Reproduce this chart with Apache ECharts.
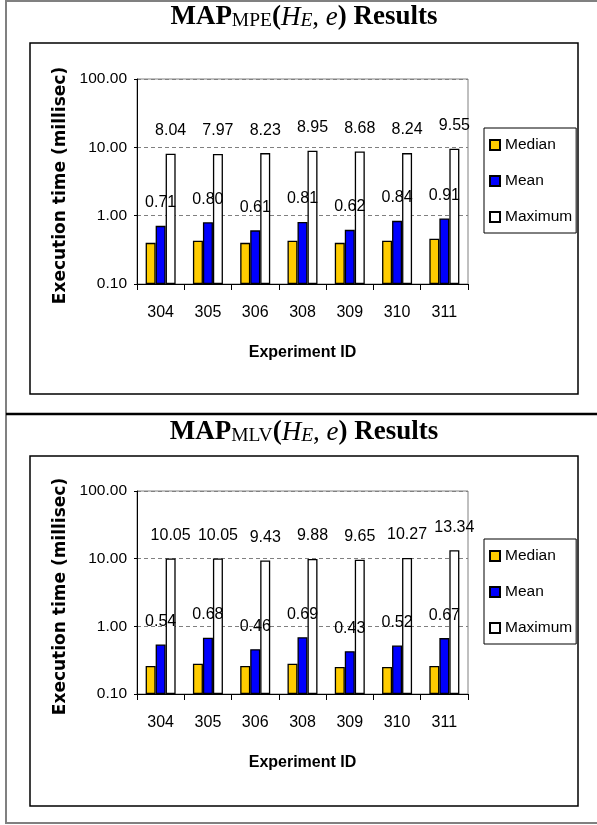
<!DOCTYPE html>
<html>
<head>
<meta charset="utf-8">
<script src="https://cdn.jsdelivr.net/npm/echarts@6/dist/echarts.min.js"></script>
<style>
html,body{margin:0;padding:0;background:#fff;}
#c{width:597px;height:825px;}
</style>
</head>
<body>
<div id="c"></div>
<script>
// ---- data ----
var categories = ['304', '305', '306', '308', '309', '310', '311'];
var seriesNames = ['Median', 'Mean', 'Maximum'];
// top panel: MAP_MPE(H_E, e)
var mpeMedian = [0.40, 0.43, 0.40, 0.43, 0.40, 0.43, 0.46];
var mpeMean = [0.71, 0.80, 0.61, 0.81, 0.62, 0.84, 0.91];
var mpeMax = [8.04, 7.97, 8.23, 8.95, 8.68, 8.24, 9.55];
// bottom panel: MAP_MLV(H_E, e)
var mlvMedian = [0.26, 0.28, 0.26, 0.28, 0.25, 0.25, 0.26];
var mlvMean = [0.54, 0.68, 0.46, 0.69, 0.43, 0.52, 0.67];
var mlvMax = [10.05, 10.05, 9.43, 9.88, 9.65, 10.27, 13.34];
var yTickValues = [0.1, 1, 10, 100];
var xTitle = 'Experiment ID';
var yTitle = 'Execution time (millisec)';

var NARROW = "'Liberation Sans', Arial, sans-serif";
var SANS = "'Liberation Sans', Arial, sans-serif";
var SERIF = "'Liberation Serif', 'Times New Roman', serif";
var colors = ['#FFCC00', '#0000FF', '#FFFFFF'];

var chart = echarts.init(document.getElementById('c'), null, {renderer: 'canvas'});

function xAxisFor(gi) {
  return {
    type: 'category', gridIndex: gi, data: categories,
    axisLine: {show: true, lineStyle: {color: '#000', width: 1}},
    axisTick: {show: true, length: 6, lineStyle: {color: '#000'}},
    axisLabel: {margin: 21, color: '#000', fontFamily: NARROW, fontSize: 16},
    name: xTitle, nameLocation: 'middle', nameGap: 61,
    nameTextStyle: {color: '#000', fontFamily: SANS, fontWeight: 'bold', fontSize: 16}
  };
}
function yAxisFor(gi) {
  return {
    type: 'log', logBase: 10, gridIndex: gi,
    min: yTickValues[0], max: yTickValues[yTickValues.length - 1],
    startValue: yTickValues[0],
    axisLine: {show: true, onZero: false, lineStyle: {color: '#000', width: 1}},
    axisTick: {show: true, length: 3, lineStyle: {color: '#000'}},
    minorTick: {show: false},
    axisLabel: {margin: 10, color: '#000', fontFamily: NARROW, fontSize: 15.5,
      formatter: function (v) { return Number(v).toFixed(2); }},
    splitLine: {show: true, lineStyle: {color: '#808080', type: [4, 3], width: 1}},
    name: yTitle, nameLocation: 'middle', nameGap: 52,
    nameTextStyle: {color: '#000', fontFamily: "'DejaVu Sans', sans-serif", fontWeight: 'bold', fontSize: 17,
      padding: [0, 8, 0, 0]}
  };
}
function barSeries(name, data, idx, gi, withLabel) {
  return {
    type: 'bar', name: name, data: data, xAxisIndex: gi, yAxisIndex: gi,
    barWidth: 10, barGap: '0%',
    itemStyle: {color: colors[idx], borderColor: '#000', borderWidth: 1.3},
    label: {show: withLabel, position: 'top', distance: 15, color: '#000',
      fontFamily: NARROW, fontSize: 16,
      formatter: function (p) { return Number(p.value).toFixed(2); }},
    emphasis: {disabled: true},
    animation: false
  };
}
function legendFor(top) {
  return {
    orient: 'vertical', left: 484, top: top, data: seriesNames,
    icon: 'rect', itemWidth: 10, itemHeight: 10, itemGap: 20,
    padding: [9, 4, 8, 5], borderColor: '#000', borderWidth: 1,
    textStyle: {color: '#000', fontFamily: NARROW, fontSize: 15.5},
    selectedMode: false
  };
}
var titleRich = {
  b: {fontFamily: SERIF, fontWeight: 'bold', fontSize: 27, lineHeight: 30, verticalAlign: 'bottom', color: '#000'},
  s: {fontFamily: SERIF, fontSize: 19.5, lineHeight: 26, verticalAlign: 'bottom', color: '#000'},
  i: {fontFamily: SERIF, fontStyle: 'italic', fontSize: 27, lineHeight: 30, verticalAlign: 'bottom', color: '#000'},
  si: {fontFamily: SERIF, fontStyle: 'italic', fontSize: 19.5, lineHeight: 26, verticalAlign: 'bottom', color: '#000'},
  n: {fontFamily: SERIF, fontSize: 27, lineHeight: 30, verticalAlign: 'bottom', color: '#000'}
};
function titleText(sub) {
  return '{b|MAP}{s|' + sub + '}{b|(}{i|H}{si|E}{n|, }{i|e}{b|)}{b| Results}';
}

var option = {
  backgroundColor: '#fff',
  animation: false,
  grid: [
    {left: 137, top: 79, width: 331, height: 205, show: true, borderColor: '#808080', borderWidth: 1, backgroundColor: 'transparent'},
    {left: 137, top: 491, width: 331, height: 203, show: true, borderColor: '#808080', borderWidth: 1, backgroundColor: 'transparent'}
  ],
  xAxis: [xAxisFor(0), xAxisFor(1)],
  yAxis: [yAxisFor(0), yAxisFor(1)],
  legend: [legendFor(128), legendFor(539)],
  series: [
    barSeries('Median', mpeMedian, 0, 0, false),
    barSeries('Mean', mpeMean, 1, 0, true),
    barSeries('Maximum', mpeMax, 2, 0, true),
    barSeries('Median', mlvMedian, 0, 1, false),
    barSeries('Mean', mlvMean, 1, 1, true),
    barSeries('Maximum', mlvMax, 2, 1, true)
  ],
  graphic: [
    {type: 'rect', shape: {x: 6, y: 1, width: 600, height: 822}, style: {fill: 'none', stroke: '#808080', lineWidth: 2}, silent: true, z: -1},
    {type: 'line', shape: {x1: 6, y1: 414, x2: 597, y2: 414}, style: {stroke: '#000', lineWidth: 2.5}, silent: true},
    {type: 'rect', shape: {x: 30, y: 43, width: 548, height: 351}, style: {fill: 'none', stroke: '#000', lineWidth: 1.5}, silent: true},
    {type: 'rect', shape: {x: 30, y: 456, width: 548, height: 350}, style: {fill: 'none', stroke: '#000', lineWidth: 1.5}, silent: true},
    {type: 'text', x: 304, y: 1, style: {text: titleText('MPE'), rich: titleRich, align: 'center', verticalAlign: 'top'}, silent: true},
    {type: 'text', x: 304, y: 416, style: {text: titleText('MLV'), rich: titleRich, align: 'center', verticalAlign: 'top'}, silent: true}
  ]
};
chart.setOption(option);
</script>
</body>
</html>
